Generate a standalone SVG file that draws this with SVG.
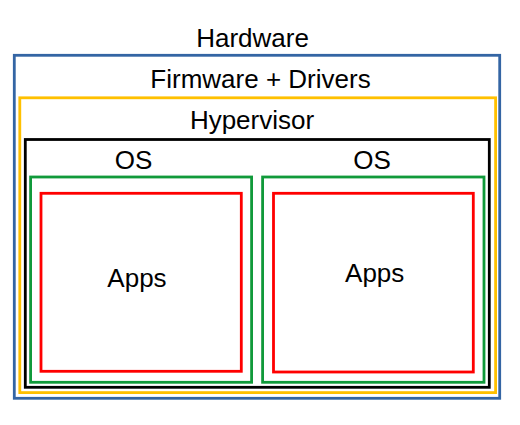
<svg xmlns="http://www.w3.org/2000/svg" width="520" height="425" viewBox="0 0 520 425">
<style>
.box{fill:none}
.t{font-family:"Liberation Sans",Arial,sans-serif;font-size:26px;fill:#000;text-anchor:middle}
</style>
<rect width="520" height="425" fill="#fff"/>
<g id="hardware">
<rect class="box" x="14.3" y="55.3" width="485.4" height="343" stroke="#3465a4" stroke-width="2.8"/>
<text class="t" x="252.5" y="46.7">Hardware</text>
</g>
<g id="firmware">
<rect class="box" x="19.8" y="97.8" width="475.8" height="294.8" stroke="#ffc000" stroke-width="2.8"/>
<text class="t" x="260.5" y="88.3">Firmware + Drivers</text>
</g>
<g id="hypervisor">
<rect class="box" x="25.3" y="139.5" width="464" height="247.8" stroke="#000" stroke-width="2.8"/>
<text class="t" x="252" y="129">Hypervisor</text>
</g>
<g id="os1">
<rect class="box" x="30.6" y="177" width="221" height="205.3" stroke="#109a3a" stroke-width="2.8"/>
<text class="t" x="133.5" y="169">OS</text>
</g>
<g id="os2">
<rect class="box" x="262.6" y="177" width="221.4" height="205.3" stroke="#109a3a" stroke-width="2.8"/>
<text class="t" x="372" y="169">OS</text>
</g>
<g id="apps1">
<rect class="box" x="41" y="193.3" width="200.3" height="178" stroke="#ff0000" stroke-width="2.8"/>
<text class="t" x="137" y="286.7">Apps</text>
</g>
<g id="apps2">
<rect class="box" x="273.5" y="193.3" width="199.8" height="178.7" stroke="#ff0000" stroke-width="2.8"/>
<text class="t" x="374.7" y="282.3">Apps</text>
</g>
<g id="connectors"></g>
</svg>
